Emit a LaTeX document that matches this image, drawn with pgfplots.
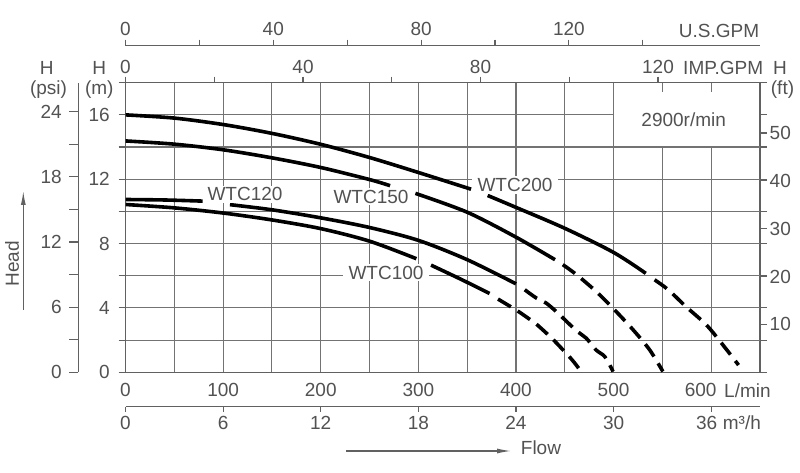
\documentclass[border=0pt]{standalone}
\usepackage{fontspec}
\setmainfont{Liberation Sans}
\usepackage{pgfplots}
\pgfplotsset{compat=1.18}
\usetikzlibrary{arrows.meta}

\definecolor{gridc}{gray}{0.45}
\definecolor{framec}{gray}{0.38}
\definecolor{textc}{gray}{0.32}
\newcommand\lbl{\fontsize{19}{22}\selectfont}

\pgfplotsset{
  base/.style={scale only axis, anchor=south west,
    axis line style={draw=framec, line width=1.3pt},
    every tick/.append style={draw=framec, line width=1.1pt},
    tick label style={font=\lbl, text=textc, inner sep=0pt},
    /pgf/number format/assume math mode=true},
  flowscale/.style={base, hide y axis, height=10pt, width=634.5pt, xmin=0, ymin=0, ymax=1,
    tick align=outside, major tick length=6pt},
  headscale/.style={base, hide x axis, width=10pt, height=289.6pt, xmin=0, xmax=1, ymin=0,
    tick align=outside},
  curve/.style={black, line width=3.6pt, line cap=butt, smooth, no marks},
  tail/.style={curve, dash pattern=on 15pt off 8pt},
}

\begin{document}
\begin{tikzpicture}
\useasboundingbox (0pt,0pt) rectangle (800pt,473pt);

% U.S. GPM scale on top
\begin{axis}[flowscale, at={(125.5pt,417.3pt)}, xmax=171.73, axis x line*=top,
  xtick={0,20,...,140}, xticklabels={0,,40,,80,,120,},
  xticklabel style={anchor=center, yshift=11pt}]
\end{axis}

% IMP. GPM scale along the top edge of the chart
\begin{axis}[flowscale, at={(125.5pt,380.3pt)}, xmax=142.98, axis x line*=top,
  xtick={0,20,...,120}, xticklabels={0,,40,,80,,120},
  xticklabel style={anchor=center, yshift=10pt}]
\end{axis}

% m3/h scale under the chart
\begin{axis}[flowscale, at={(125.5pt,66.3pt)}, xmax=39, axis x line*=bottom,
  major tick length=5pt,
  xtick={0,6,...,36}, xticklabels={0,6,12,18,24,30,{\hspace*{-9pt}36}},
  xticklabel style={anchor=center, yshift=-11.6pt}]
\end{axis}

% psi scale
\begin{axis}[headscale, at={(78.3pt,100.7pt)}, ymax=26.67, axis y line*=left,
  major tick length=9pt,
  ytick={0,3,...,24}, yticklabels={0,,6,,12,,18,,24},
  yticklabel style={anchor=east, xshift=-7.3pt}]
\end{axis}

% ft scale
\begin{axis}[headscale, at={(750pt,100.7pt)}, ymax=60.5, axis y line*=right,
  major tick length=7pt,
  ytick={10,20,...,50},
  yticklabel style={anchor=west, xshift=2.5pt}]
\end{axis}

% main chart, H in m against Q in L/min
\begin{axis}[base, at={(125.5pt,100.7pt)}, width=634.5pt, height=289.6pt,
  xmin=0, xmax=650, ymin=0, ymax=18,
  xtick={0,100,...,600},
  ytick={0,2,...,18}, yticklabels={0,,4,,8,,12,,16,},
  tick align=outside, major tick length=7pt,
  xtick style={draw=none},
  xticklabels={0,100,200,300,400,500,{\hspace*{-21pt}600}},
  xticklabel style={anchor=center, yshift=-11pt},
  yticklabel style={anchor=east, xshift=-8.5pt}]

% grid: every 50 L/min and every 2 m, left open round the speed note
\pgfplotsinvokeforeach{50,100,...,500}{
  \draw[gridc, line width=1.1pt] (axis cs:#1,0) -- (axis cs:#1,18);}
\pgfplotsinvokeforeach{550,600}{
  \draw[gridc, line width=1.1pt] (axis cs:#1,0) -- (axis cs:#1,14);
  \draw[gridc, line width=1.1pt] (axis cs:#1,17.44) -- (axis cs:#1,18);}
\pgfplotsinvokeforeach{2,4,...,14}{
  \draw[gridc, line width=1.1pt] (axis cs:0,#1) -- (axis cs:650,#1);}
\draw[gridc, line width=1.1pt] (axis cs:0,16) -- (axis cs:500,16);

% WTC200
\addplot[curve] coordinates {(0,16.0) (50,15.8) (100,15.4) (150,14.85) (200,14.17) (250,13.35) (300,12.42) (354,11.38)};
\addplot[curve] coordinates {(371,10.99) (400,10.25) (450,8.95) (500,7.45) (533,6.15)};
\addplot[tail] coordinates {(542,5.75) (556,5.13) (574,4.09) (595,2.95) (612,1.7) (628,0.45)};

% WTC150
\addplot[curve] coordinates {(0,14.38) (50,14.18) (100,13.83) (150,13.33) (200,12.73) (250,11.98) (271,11.6)};
\addplot[curve] coordinates {(297,11.12) (350,9.95) (400,8.4) (440,7.0)};
\addplot[tail] coordinates {(448,6.69) (462,6.07) (482,5.03) (501,3.88) (520,2.64) (537,1.39) (550.5,0.05)};

% WTC120
\addplot[curve] coordinates {(0,10.74) (40,10.71) (79,10.64)};
\addplot[curve] coordinates {(107,10.42) (150,10.1) (200,9.6) (250,9.0) (300,8.2) (350,7.0) (400,5.5)};
\addplot[tail] coordinates {(409,5.13) (421,4.61) (431,4.3) (443,3.68) (452,3.15) (463,2.53) (472,2.12) (482,1.39) (491,0.97) (499.5,0.05)};

% WTC100
\addplot[curve] coordinates {(0,10.43) (50,10.22) (100,9.9) (150,9.47) (200,8.93) (250,8.15) (298,7.06)};
\addplot[curve] coordinates {(313,6.66) (343,5.8) (373,4.9)};
\addplot[tail] coordinates {(381.6,4.55) (396.7,4.0) (404,3.72) (419,3.08) (426,2.72) (437.5,2.07) (446.5,1.5) (456.7,0.83) (462.4,0.4) (467,0.02)};
\end{axis}

% curve names and other text
\begin{scope}[every node/.style={font=\lbl, text=textc, inner sep=0pt}]
\node[anchor=west, fill=white, inner xsep=4pt, inner ysep=2pt] at (203.3pt,278.7pt) {WTC120};
\node[anchor=west, fill=white, inner xsep=4pt, inner ysep=2pt] at (329.3pt,276.3pt) {WTC150};
\node[anchor=west, fill=white, inner xsep=6pt, inner ysep=2pt] at (471.3pt,288pt) {WTC200};
\node[anchor=west, fill=white, inner xsep=6pt, inner ysep=2pt] at (342.3pt,200.3pt) {WTC100};
\node at (683.7pt,353pt) {2900r/min};

\node at (99.3pt,404.7pt) {H};
\node at (99.3pt,383pt) {(m)};
\node at (46.7pt,405pt) {H};
\node at (48.5pt,383pt) {(psi)};
\node at (780pt,405pt) {H};
\node at (782.5pt,383pt) {(ft)};

\node[anchor=east] at (759.3pt,442.3pt) {U.S.GPM};
\node[anchor=east] at (763.3pt,404.7pt) {IMP.GPM};
\node[anchor=west] at (724pt,82pt) {L/min};
\node[anchor=west] at (722.7pt,50pt) {m³/h};

\node[anchor=west] at (520.7pt,25pt) {Flow};
\node[rotate=90] at (12pt,209pt) {Head};
\end{scope}
\draw[framec, line width=1.2pt, -{Latex[length=14pt,width=5pt]}] (346pt,22pt) -- (511pt,22pt);
\draw[framec, line width=1.2pt, -{Latex[length=14pt,width=5pt]}] (23.3pt,163pt) -- (23.3pt,282pt);
\end{tikzpicture}
\end{document}
